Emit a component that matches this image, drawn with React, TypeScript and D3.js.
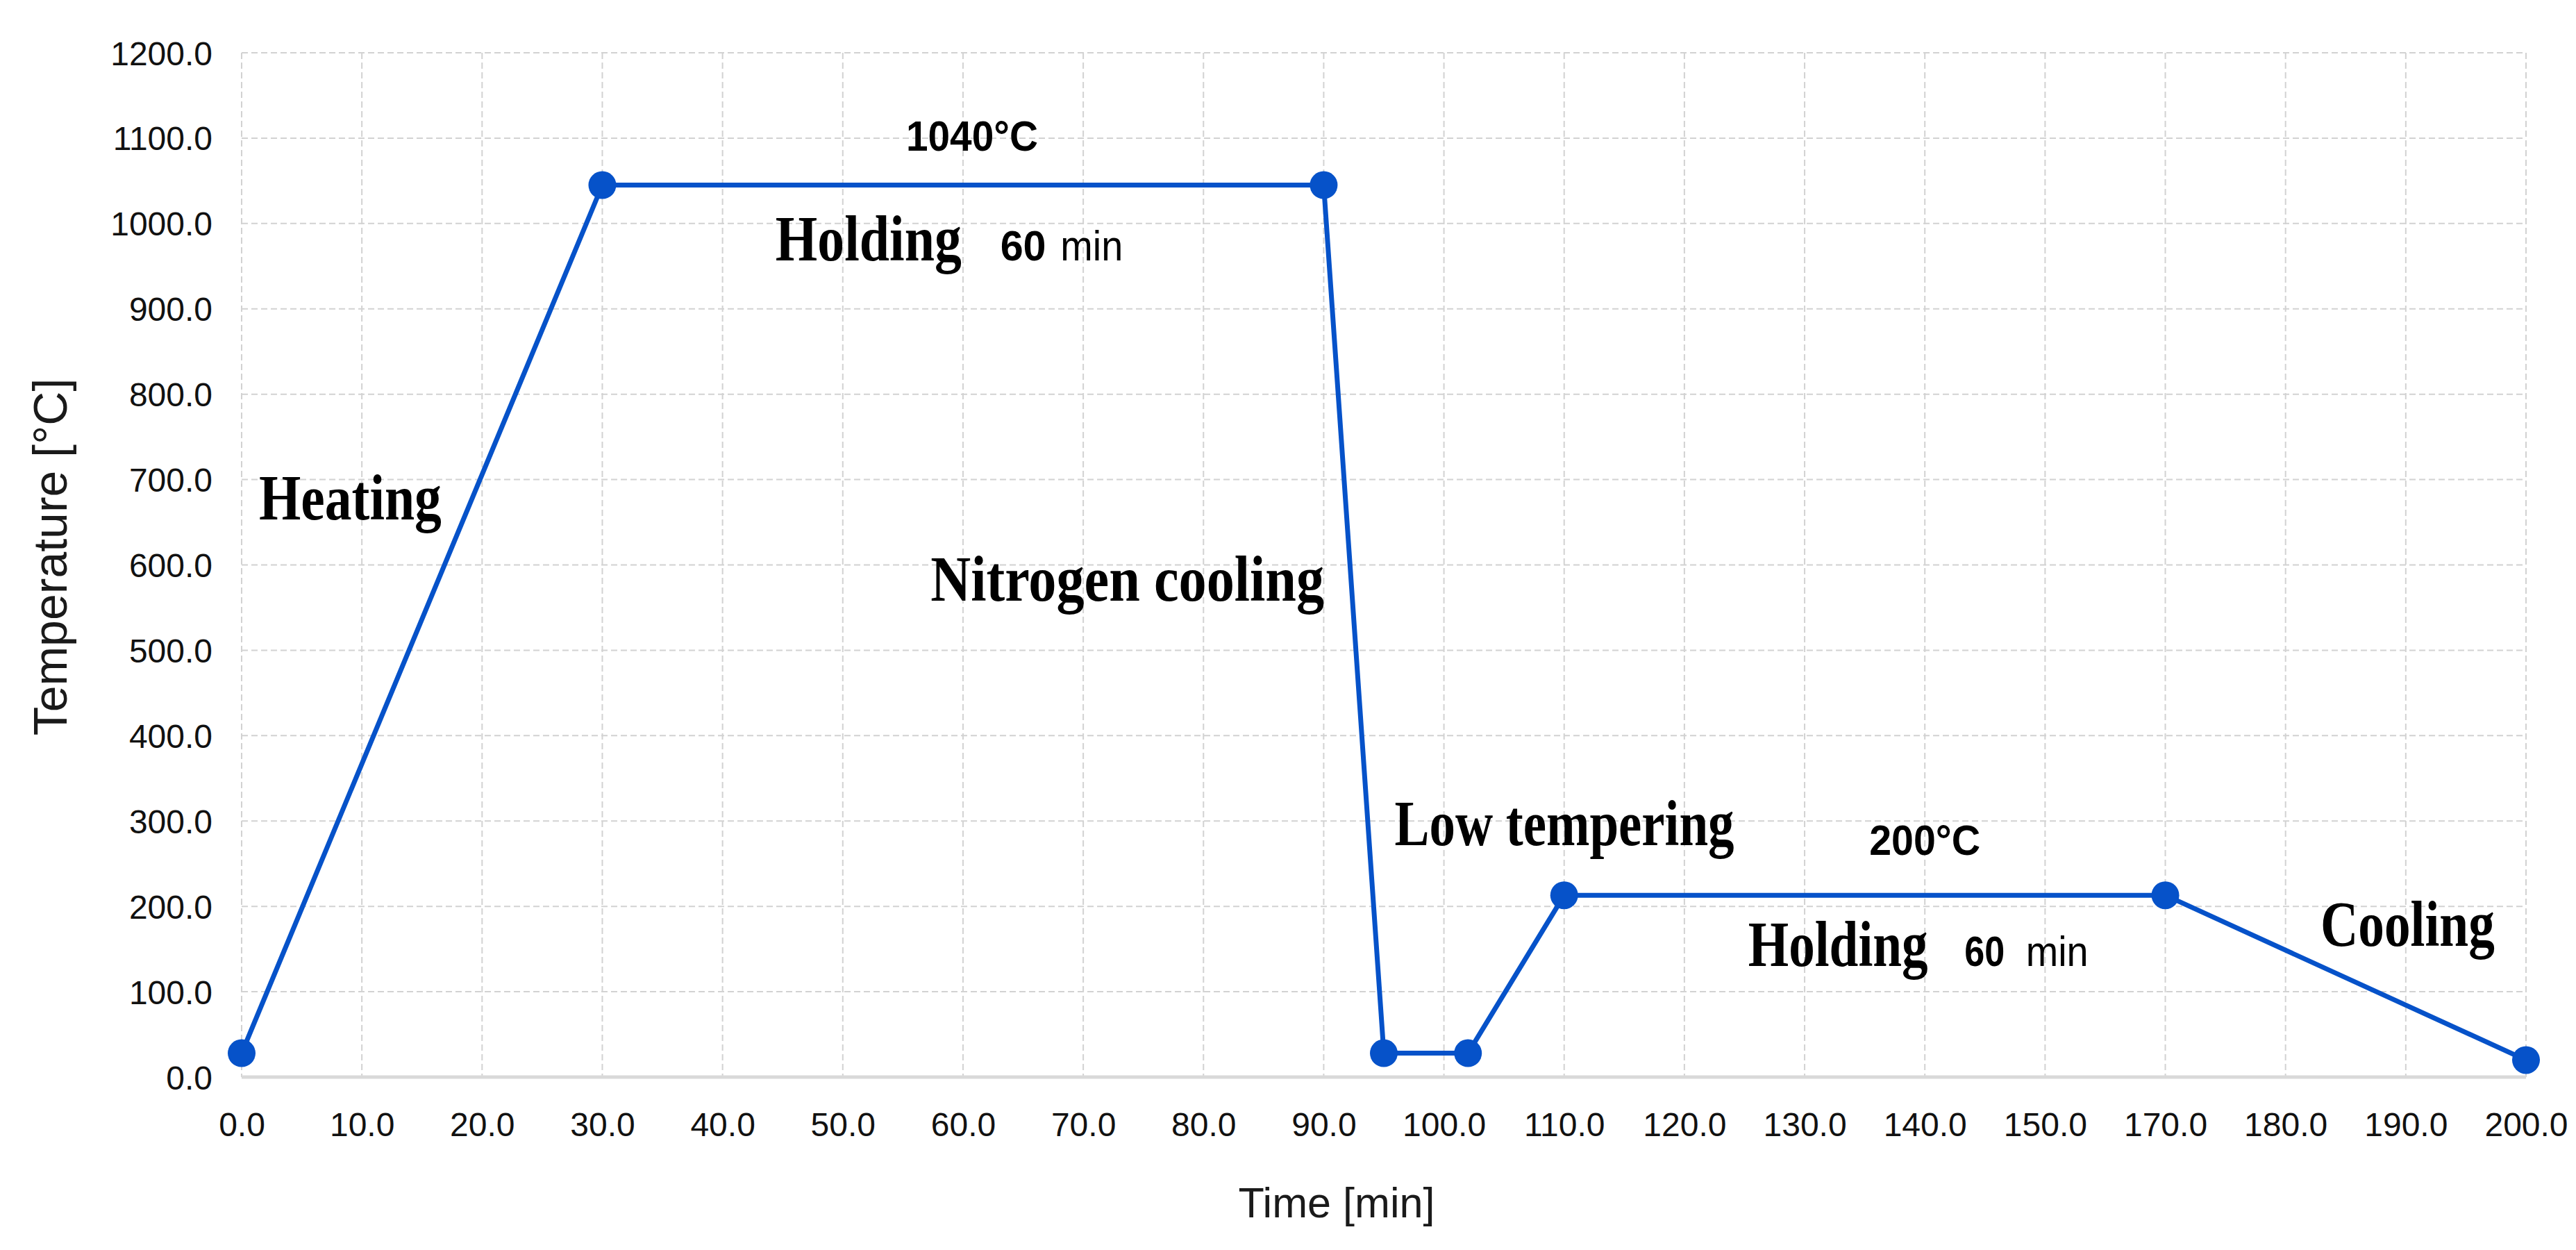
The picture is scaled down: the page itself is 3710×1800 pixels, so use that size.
import * as d3 from 'd3';
import { FC, useEffect, useRef } from 'react';

// x-axis categories as printed (note: the chart skips 160.0)
const timeTicks = [0, 10, 20, 30, 40, 50, 60, 70, 80, 90, 100, 110, 120, 130, 140, 150, 170, 180, 190, 200];
const tempTicks = [0, 100, 200, 300, 400, 500, 600, 700, 800, 900, 1000, 1100, 1200];

// heat treatment profile
const times = [0, 30, 90, 95, 102, 110, 170, 200];
const temps = [28, 1045, 1045, 28, 28, 213, 213, 20];

const W = 3710;
const H = 1800;
const margin = { top: 76, right: 72, bottom: 249, left: 348 };

const SERIF = '"Liberation Serif", "Times New Roman", serif';
const SANS = '"Liberation Sans", Arial, sans-serif';
const BLUE = '#0652c9';

const Chart: FC = () => {
  const ref = useRef<SVGSVGElement>(null);

  useEffect(() => {
    const svg = d3.select(ref.current);
    svg.selectAll('*').remove();

    const innerW = W - margin.left - margin.right;
    const innerH = H - margin.top - margin.bottom;
    const step = innerW / (timeTicks.length - 1);

    // one even step per printed category
    const x = d3
      .scaleLinear()
      .domain(timeTicks)
      .range(timeTicks.map((_, i) => i * step));
    const y = d3.scaleLinear().domain([0, 1200]).range([innerH, 0]);

    svg.append('rect').attr('width', W).attr('height', H).attr('fill', '#fff');

    const g = svg.append('g').attr('transform', `translate(${margin.left},${margin.top})`);

    // grid
    g.append('g')
      .selectAll('line')
      .data(tempTicks.filter((d) => d > 0))
      .join('line')
      .attr('x1', 0)
      .attr('x2', innerW)
      .attr('y1', (d) => y(d))
      .attr('y2', (d) => y(d))
      .attr('stroke', '#d2d2d2')
      .attr('stroke-width', 2)
      .attr('stroke-dasharray', '9,5');

    g.append('g')
      .selectAll('line')
      .data(timeTicks)
      .join('line')
      .attr('x1', (d) => x(d))
      .attr('x2', (d) => x(d))
      .attr('y1', 0)
      .attr('y2', innerH)
      .attr('stroke', '#d2d2d2')
      .attr('stroke-width', 2)
      .attr('stroke-dasharray', '9,5');

    g.append('line')
      .attr('x1', 0)
      .attr('x2', innerW)
      .attr('y1', innerH)
      .attr('y2', innerH)
      .attr('stroke', '#d9d9d9')
      .attr('stroke-width', 5);

    // axes
    const xAxis = g
      .append('g')
      .attr('transform', `translate(0,${innerH})`)
      .call(d3.axisBottom(x).tickValues(timeTicks).tickFormat(d3.format('.1f')).tickSize(0));
    xAxis.select('.domain').remove();
    xAxis
      .selectAll('text')
      .attr('y', 85)
      .attr('dy', null)
      .attr('font-size', 48)
      .attr('font-family', SANS)
      .attr('fill', '#111');

    const yAxis = g
      .append('g')
      .call(d3.axisLeft(y).tickValues(tempTicks).tickFormat(d3.format('.1f')).tickSize(0));
    yAxis.select('.domain').remove();
    yAxis
      .selectAll('text')
      .attr('x', -42)
      .attr('dy', null)
      .attr('y', 17)
      .attr('font-size', 48)
      .attr('font-family', SANS)
      .attr('fill', '#111');

    // profile
    const pts = times.map((t, i) => [t, temps[i]] as [number, number]);
    const line = d3
      .line<[number, number]>()
      .x((d) => x(d[0]))
      .y((d) => y(d[1]));

    g.append('path')
      .datum(pts)
      .attr('fill', 'none')
      .attr('stroke', BLUE)
      .attr('stroke-width', 7)
      .attr('stroke-linejoin', 'round')
      .attr('d', line);

    g.append('g')
      .selectAll('circle')
      .data(pts)
      .join('circle')
      .attr('cx', (d) => x(d[0]))
      .attr('cy', (d) => y(d[1]))
      .attr('r', 20)
      .attr('fill', BLUE);

    // annotations: the original lettering is horizontally condensed,
    // so squeeze each label to its measured width with a scale
    const label = (
      text: string,
      t: number,
      v: number,
      len: number,
      family: string,
      size: number,
      bold: boolean,
      middle = false,
    ) => {
      const el = g
        .append('text')
        .attr('font-family', family)
        .attr('font-weight', bold ? 'bold' : 'normal')
        .attr('font-size', size)
        .attr('fill', '#000')
        .text(text);
      const natural = (el.node() as SVGTextElement).getComputedTextLength() || len;
      const sx = len / natural;
      const left = middle ? x(t) - len / 2 : x(t);
      el.attr('transform', `translate(${left},${y(v)}) scale(${sx},1)`);
    };

    const serif = (text: string, t: number, v: number, len: number) =>
      label(text, t, v, len, SERIF, 94, true);
    const sans = (text: string, t: number, v: number, len: number, bold: boolean, middle = false) =>
      label(text, t, v, len, SANS, 62, bold, middle);

    serif('Heating', 1.44, 653, 263);
    sans('1040°C', 60.75, 1085, 190, true, true);
    serif('Holding', 44.4, 957, 268);
    sans('60', 63.1, 957, 66, true);
    sans('min', 68.1, 957, 90, false);
    serif('Nitrogen cooling', 57.3, 558, 567);
    serif('Low tempering', 95.9, 272, 489);
    sans('200°C', 140, 260, 160, true, true);
    serif('Holding', 125.3, 130, 259);
    sans('60', 143.3, 130, 58, true);
    sans('min', 148.4, 130, 90, false);
    serif('Cooling', 182.9, 154, 251);

    // axis titles
    const xTitle = svg
      .append('text')
      .attr('font-family', SANS)
      .attr('font-size', 62)
      .attr('fill', '#1a1a1a')
      .text('Time [min]');
    const xTitleW = (xTitle.node() as SVGTextElement).getComputedTextLength() || 283;
    xTitle.attr('transform', `translate(${1925 - 283 / 2},1753) scale(${283 / xTitleW},1)`);

    svg.append('text')
      .attr('transform', 'translate(96,802) rotate(-90)')
      .attr('text-anchor', 'middle')
      .attr('font-family', SANS)
      .attr('font-size', 68)
      .attr('fill', '#1a1a1a')
      .text('Temperature [°C]');
  }, []);

  return <svg ref={ref} width={W} height={H} style={{ display: 'block' }} />;
};

export default function App() {
  return (
    <div style={{ position: 'absolute', left: 0, top: 0 }}>
      <Chart />
    </div>
  );
}
